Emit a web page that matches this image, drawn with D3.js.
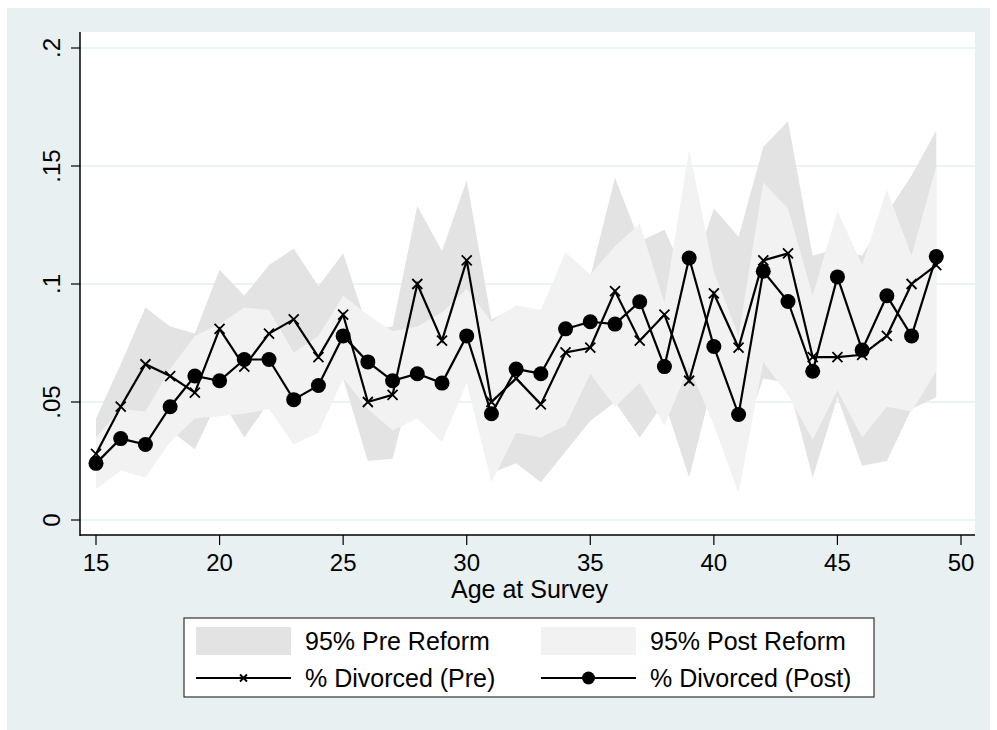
<!DOCTYPE html>
<html>
<head>
<meta charset="utf-8">
<script src="https://cdn.jsdelivr.net/npm/d3@7"></script>
<style>
  body { margin: 0; background: #fff; }
  text { font-family: "Liberation Sans", Arial, Helvetica, sans-serif; fill: #000; }
</style>
</head>
<body>
<svg id="chart" width="997" height="730"></svg>
<script>
const ages = d3.range(15, 50)

// % divorced, point estimates
const prePct = [0.028, 0.048, 0.066, 0.061, 0.054, 0.081, 0.065, 0.079, 0.085, 0.069,
  0.087, 0.050, 0.053, 0.100, 0.076, 0.110, 0.050, 0.060, 0.049, 0.071,
  0.073, 0.097, 0.076, 0.087, 0.059, 0.096, 0.073, 0.110, 0.113, 0.069,
  0.069, 0.070, 0.078, 0.100, 0.108]
const postPct = [0.024, 0.0345, 0.032, 0.048, 0.061, 0.059, 0.068, 0.068, 0.051, 0.057,
  0.078, 0.067, 0.059, 0.062, 0.058, 0.078, 0.045, 0.064, 0.062, 0.081,
  0.084, 0.083, 0.0925, 0.065, 0.111, 0.0735, 0.0447, 0.1054, 0.0926, 0.063,
  0.103, 0.072, 0.095, 0.078, 0.1116]

// 95% bands
const preLo = [0.014, 0.028, 0.042, 0.038, 0.030, 0.052, 0.035, 0.050, 0.055, 0.040,
  0.060, 0.025, 0.026, 0.067, 0.040, 0.075, 0.020, 0.024, 0.016, 0.029,
  0.042, 0.050, 0.035, 0.050, 0.018, 0.060, 0.030, 0.060, 0.058, 0.018,
  0.052, 0.023, 0.025, 0.047, 0.052]
const preHi = [0.043, 0.066, 0.090, 0.082, 0.079, 0.106, 0.095, 0.108, 0.115, 0.099,
  0.113, 0.081, 0.082, 0.133, 0.114, 0.144, 0.085, 0.090, 0.085, 0.106,
  0.103, 0.145, 0.118, 0.123, 0.100, 0.132, 0.120, 0.158, 0.169, 0.112,
  0.115, 0.112, 0.130, 0.146, 0.165]
const postLo = [0.013, 0.021, 0.018, 0.033, 0.043, 0.044, 0.045, 0.047, 0.032, 0.037,
  0.060, 0.047, 0.038, 0.043, 0.033, 0.058, 0.016, 0.037, 0.035, 0.040,
  0.062, 0.048, 0.058, 0.040, 0.065, 0.040, 0.0115, 0.067, 0.053, 0.034,
  0.055, 0.035, 0.048, 0.046, 0.063]
const postHi = [0.035, 0.047, 0.046, 0.064, 0.078, 0.083, 0.090, 0.089, 0.071, 0.078,
  0.095, 0.087, 0.080, 0.082, 0.088, 0.098, 0.084, 0.091, 0.089, 0.1135,
  0.104, 0.116, 0.1255, 0.092, 0.157, 0.105, 0.078, 0.143, 0.132, 0.095,
  0.131, 0.108, 0.140, 0.112, 0.150]

const xTicks = [15, 20, 25, 30, 35, 40, 45, 50]
const yTicks = [0, 0.05, 0.1, 0.15, 0.2]
const yTickLabels = ['0', '.05', '.1', '.15', '.2']

const plot = { left: 80, right: 975, top: 32, bottom: 535 }

const x = d3.scaleLinear().domain([15, 50]).range([96, 961])
const y = d3.scaleLinear().domain([0, 0.2]).range([520, 48])

const svg = d3.select('#chart')

// outer graph region
svg.append('rect')
  .attr('x', 7).attr('y', 8)
  .attr('width', 983).attr('height', 722)
  .attr('fill', '#e8f0f2')

svg.append('rect')
  .attr('x', plot.left).attr('y', plot.top)
  .attr('width', plot.right - plot.left).attr('height', plot.bottom - plot.top)
  .attr('fill', '#fff')

// gridlines
svg.append('g')
  .selectAll('line')
  .data(yTicks)
  .join('line')
  .attr('x1', plot.left).attr('x2', plot.right)
  .attr('y1', d => y(d)).attr('y2', d => y(d))
  .attr('stroke', '#e6eff1')
  .attr('stroke-width', 1.5)

const rows = ages.map((a, i) => ({
  age: a, pre: prePct[i], post: postPct[i],
  preLo: preLo[i], preHi: preHi[i], postLo: postLo[i], postHi: postHi[i]
}))

const preBand = d3.area().x(d => x(d.age)).y0(d => y(d.preLo)).y1(d => y(d.preHi))
const postBand = d3.area().x(d => x(d.age)).y0(d => y(d.postLo)).y1(d => y(d.postHi))

svg.append('path').datum(rows).attr('d', preBand).attr('fill', '#e3e3e3')
svg.append('path').datum(rows).attr('d', postBand).attr('fill', '#f2f2f2')

const preLine = d3.line().x(d => x(d.age)).y(d => y(d.pre))
const postLine = d3.line().x(d => x(d.age)).y(d => y(d.post))

svg.append('path').datum(rows).attr('d', preLine)
  .attr('fill', 'none').attr('stroke', '#000').attr('stroke-width', 2.2)
svg.append('path').datum(rows).attr('d', postLine)
  .attr('fill', 'none').attr('stroke', '#000').attr('stroke-width', 2.2)

const cross = (g, cx, cy, s) => {
  g.append('path')
    .attr('d', `M${cx - s},${cy - s}L${cx + s},${cy + s}M${cx - s},${cy + s}L${cx + s},${cy - s}`)
    .attr('stroke', '#000').attr('stroke-width', 1.8)
}

const marks = svg.append('g')
rows.forEach(d => cross(marks, x(d.age), y(d.pre), 5))

svg.append('g')
  .selectAll('circle')
  .data(rows)
  .join('circle')
  .attr('cx', d => x(d.age))
  .attr('cy', d => y(d.post))
  .attr('r', 7.5)
  .attr('fill', '#000')

// axes
const yAxis = svg.append('g')
yAxis.append('line')
  .attr('x1', plot.left).attr('x2', plot.left)
  .attr('y1', plot.top).attr('y2', plot.bottom + 1)
  .attr('stroke', '#000').attr('stroke-width', 1.5)
yAxis.selectAll('.tick')
  .data(yTicks)
  .join('line')
  .attr('x1', plot.left - 9).attr('x2', plot.left)
  .attr('y1', d => y(d)).attr('y2', d => y(d))
  .attr('stroke', '#000').attr('stroke-width', 1.2)
yAxis.selectAll('text')
  .data(yTicks)
  .join('text')
  .attr('transform', d => `translate(60, ${y(d)}) rotate(-90)`)
  .attr('text-anchor', 'middle')
  .style('font-size', '24px')
  .text((d, i) => yTickLabels[i])

const xAxis = svg.append('g')
xAxis.append('line')
  .attr('x1', plot.left).attr('x2', plot.right)
  .attr('y1', plot.bottom).attr('y2', plot.bottom)
  .attr('stroke', '#000').attr('stroke-width', 1.5)
xAxis.selectAll('.tick')
  .data(xTicks)
  .join('line')
  .attr('x1', d => x(d)).attr('x2', d => x(d))
  .attr('y1', plot.bottom).attr('y2', plot.bottom + 10)
  .attr('stroke', '#000').attr('stroke-width', 1.2)
xAxis.selectAll('text')
  .data(xTicks)
  .join('text')
  .attr('x', d => x(d))
  .attr('y', 571)
  .attr('text-anchor', 'middle')
  .style('font-size', '24px')
  .text(d => d)

svg.append('text')
  .attr('x', (plot.left + plot.right) / 2 + 2)
  .attr('y', 598)
  .attr('text-anchor', 'middle')
  .style('font-size', '25px')
  .text('Age at Survey')

// legend
const legend = svg.append('g')
legend.append('rect')
  .attr('x', 184).attr('y', 618)
  .attr('width', 690).attr('height', 79)
  .attr('fill', '#fff').attr('stroke', '#333').attr('stroke-width', 1.2)

const legendItems = [
  { label: '95% Pre Reform', kind: 'band', fill: '#e3e3e3', col: 0, row: 0 },
  { label: '95% Post Reform', kind: 'band', fill: '#f2f2f2', col: 1, row: 0 },
  { label: '% Divorced (Pre)', kind: 'cross', col: 0, row: 1 },
  { label: '% Divorced (Post)', kind: 'dot', col: 1, row: 1 }
]

legendItems.forEach(item => {
  const kx = item.col === 0 ? 196 : 541
  const cy = item.row === 0 ? 641 : 678
  if (item.kind === 'band') {
    legend.append('rect')
      .attr('x', kx).attr('y', cy - 14)
      .attr('width', 95).attr('height', 28)
      .attr('fill', item.fill)
  } else {
    legend.append('line')
      .attr('x1', kx).attr('x2', kx + 95)
      .attr('y1', cy).attr('y2', cy)
      .attr('stroke', '#000').attr('stroke-width', 2)
    if (item.kind === 'cross') cross(legend, kx + 47.5, cy, 3.5)
    else legend.append('circle').attr('cx', kx + 47.5).attr('cy', cy).attr('r', 6.5).attr('fill', '#000')
  }
  legend.append('text')
    .attr('x', kx + 109)
    .attr('y', cy + 9)
    .style('font-size', '25px')
    .text(item.label)
})
</script>
</body>
</html>
